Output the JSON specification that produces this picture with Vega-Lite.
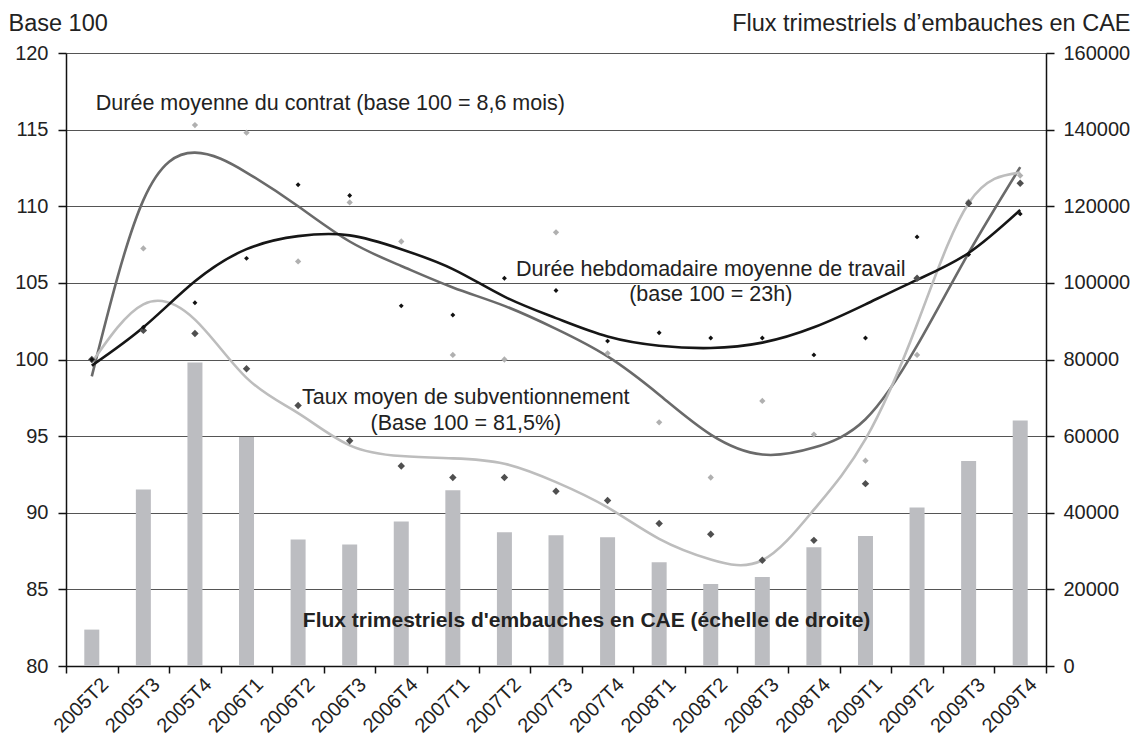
{
  "$schema": "https://vega.github.io/schema/vega-lite/v6.json",
  "width": 980,
  "height": 613,
  "autosize": {"type": "none"},
  "padding": {"left": 66, "top": 53, "right": 87, "bottom": 72},
  "background": "white",
  "config": {
    "view": {"stroke": null},
    "font": "Liberation Sans",
    "axis": {
      "labelFont": "Liberation Sans",
      "labelFontSize": 20,
      "labelColor": "#222",
      "titleFont": "Liberation Sans",
      "titleFontSize": 23.5,
      "titleFontWeight": "normal",
      "titleColor": "#222",
      "domainColor": "#111",
      "domainWidth": 1.5,
      "tickColor": "#111",
      "tickWidth": 1.5
    }
  },
  "data": {
    "values": [
      {"q": "2005T2", "flux": 9500, "hebdo": 100, "contrat": 100, "taux": 100, "hebdo_fit": 99.6, "contrat_fit": 98.9, "taux_fit": 99.8},
      {"q": "2005T3", "flux": 46100, "hebdo": 102.1, "contrat": 107.25, "taux": 101.9, "hebdo_fit": 102.1, "contrat_fit": 110.4, "taux_fit": 103.6},
      {"q": "2005T4", "flux": 79200, "hebdo": 103.7, "contrat": 115.3, "taux": 101.7, "hebdo_fit": 105.1, "contrat_fit": 113.5, "taux_fit": 102.6},
      {"q": "2006T1", "flux": 59800, "hebdo": 106.6, "contrat": 114.8, "taux": 99.4, "hebdo_fit": 107.2, "contrat_fit": 112.2, "taux_fit": 98.8},
      {"q": "2006T2", "flux": 33000, "hebdo": 111.4, "contrat": 106.4, "taux": 97.0, "hebdo_fit": 108.05, "contrat_fit": 110.0, "taux_fit": 96.5},
      {"q": "2006T3", "flux": 31700, "hebdo": 110.7, "contrat": 110.25, "taux": 94.7, "hebdo_fit": 108.1, "contrat_fit": 107.7, "taux_fit": 94.4},
      {"q": "2006T4", "flux": 37700, "hebdo": 103.5, "contrat": 107.7, "taux": 93.05, "hebdo_fit": 107.2, "contrat_fit": 106.1, "taux_fit": 93.7},
      {"q": "2007T1", "flux": 45900, "hebdo": 102.9, "contrat": 100.3, "taux": 92.3, "hebdo_fit": 105.9, "contrat_fit": 104.7, "taux_fit": 93.55},
      {"q": "2007T2", "flux": 34900, "hebdo": 105.3, "contrat": 100.0, "taux": 92.3, "hebdo_fit": 104.1, "contrat_fit": 103.5, "taux_fit": 93.2},
      {"q": "2007T3", "flux": 34100, "hebdo": 104.5, "contrat": 108.3, "taux": 91.4, "hebdo_fit": 102.7, "contrat_fit": 102.0, "taux_fit": 92.0},
      {"q": "2007T4", "flux": 33600, "hebdo": 101.2, "contrat": 100.4, "taux": 90.8, "hebdo_fit": 101.5, "contrat_fit": 100.2, "taux_fit": 90.35},
      {"q": "2008T1", "flux": 27100, "hebdo": 101.75, "contrat": 95.9, "taux": 89.3, "hebdo_fit": 100.9, "contrat_fit": 97.7, "taux_fit": 88.3},
      {"q": "2008T2", "flux": 21400, "hebdo": 101.4, "contrat": 92.3, "taux": 88.6, "hebdo_fit": 100.75, "contrat_fit": 95.1, "taux_fit": 86.95},
      {"q": "2008T3", "flux": 23200, "hebdo": 101.4, "contrat": 97.3, "taux": 86.9, "hebdo_fit": 101.1, "contrat_fit": 93.8, "taux_fit": 86.9},
      {"q": "2008T4", "flux": 31000, "hebdo": 100.3, "contrat": 95.1, "taux": 88.2, "hebdo_fit": 102.1, "contrat_fit": 94.25, "taux_fit": 90.2},
      {"q": "2009T1", "flux": 33900, "hebdo": 101.4, "contrat": 93.4, "taux": 91.9, "hebdo_fit": 103.6, "contrat_fit": 96.1, "taux_fit": 94.8},
      {"q": "2009T2", "flux": 41400, "hebdo": 108.0, "contrat": 100.3, "taux": 105.3, "hebdo_fit": 105.2, "contrat_fit": 100.9, "taux_fit": 102.3},
      {"q": "2009T3", "flux": 53500, "hebdo": 106.85, "contrat": 110.3, "taux": 110.2, "hebdo_fit": 106.95, "contrat_fit": 106.95, "taux_fit": 110.2},
      {"q": "2009T4", "flux": 64100, "hebdo": 109.5, "contrat": 112.0, "taux": 111.5, "hebdo_fit": 109.75, "contrat_fit": 112.55, "taux_fit": 112.2}
    ]
  },
  "encoding": {
    "x": {
      "field": "q",
      "type": "nominal",
      "sort": null,
      "scale": {"paddingInner": 0, "paddingOuter": 0},
      "axis": {
        "title": null,
        "grid": false,
        "tickBand": "extent",
        "tickSize": 7,
        "labelAngle": -45,
        "labelFontSize": 20,
        "labelPadding": 1,
        "labelOffset": 6
      }
    }
  },
  "layer": [
    {
      "mark": {"type": "bar", "size": 15, "color": "#bcbdc1"},
      "encoding": {
        "y": {
          "field": "flux",
          "type": "quantitative",
          "scale": {"domain": [0, 160000], "nice": false},
          "axis": {
            "orient": "right",
            "values": [0, 20000, 40000, 60000, 80000, 100000, 120000, 140000, 160000],
            "format": "d",
            "grid": false,
            "tickSize": 8,
            "labelPadding": 9,
            "title": "Flux trimestriels d’embauches en CAE",
            "titleAngle": 0,
            "titleAlign": "right",
            "titleBaseline": "alphabetic",
            "titleX": 84,
            "titleY": -23
          }
        }
      }
    },
    {
      "encoding": {
        "y": {
          "field": "val",
          "type": "quantitative",
          "scale": {"domain": [80, 120], "nice": false, "zero": false},
          "axis": {
            "orient": "left",
            "values": [80, 85, 90, 95, 100, 105, 110, 115, 120],
            "grid": true,
            "gridColor": "#555",
            "gridWidth": 1.2,
            "tickSize": 8,
            "labelPadding": 10,
            "title": "Base 100",
            "titleAngle": 0,
            "titleAlign": "left",
            "titleBaseline": "alphabetic",
            "titleX": -58,
            "titleY": -23
          }
        }
      },
      "layer": [
        {
          "transform": [{"fold": ["contrat_fit", "taux_fit", "hebdo_fit"], "as": ["serie", "val"]}],
          "mark": {"type": "line", "interpolate": "natural", "strokeWidth": 2.6},
          "encoding": {
            "color": {
              "field": "serie",
              "type": "nominal",
              "legend": null,
              "scale": {
                "domain": ["hebdo", "contrat", "taux", "hebdo_fit", "contrat_fit", "taux_fit"],
                "range": ["#111111", "#b0b0b0", "#4f4f4f", "#161616", "#6a6a6a", "#bdbdbd"]
              }
            }
          }
        },
        {
          "transform": [{"fold": ["contrat", "taux", "hebdo"], "as": ["serie", "val"]}],
          "mark": {"type": "point", "shape": "diamond", "filled": true, "opacity": 1},
          "encoding": {
            "color": {
              "field": "serie",
              "type": "nominal",
              "legend": null,
              "scale": {
                "domain": ["hebdo", "contrat", "taux", "hebdo_fit", "contrat_fit", "taux_fit"],
                "range": ["#111111", "#b0b0b0", "#4f4f4f", "#161616", "#6a6a6a", "#bdbdbd"]
              }
            },
            "size": {
              "field": "serie",
              "type": "nominal",
              "legend": null,
              "scale": {"domain": ["hebdo", "contrat", "taux"], "range": [24, 55, 55]}
            }
          }
        }
      ]
    },
    {
      "transform": [{"filter": "datum.q === '2005T2'"}],
      "mark": {"type": "text", "align": "left", "baseline": "alphabetic", "dx": 4, "fontSize": 21.5, "color": "#222"},
      "encoding": {
        "y": {"datum": 116.3, "type": "quantitative", "scale": {"domain": [80, 120], "nice": false, "zero": false}, "axis": null},
        "text": {"value": "Durée moyenne du contrat (base 100 = 8,6 mois)"}
      }
    },
    {
      "transform": [{"filter": "datum.q === '2008T2'"}],
      "mark": {"type": "text", "align": "center", "baseline": "alphabetic", "lineHeight": 25, "fontSize": 21.5, "color": "#222"},
      "encoding": {
        "y": {"datum": 105.45, "type": "quantitative", "scale": {"domain": [80, 120], "nice": false, "zero": false}, "axis": null},
        "text": {"value": ["Durée hebdomadaire moyenne de travail", "(base 100 = 23h)"]}
      }
    },
    {
      "transform": [{"filter": "datum.q === '2007T1'"}],
      "mark": {"type": "text", "align": "center", "baseline": "alphabetic", "lineHeight": 26, "dx": 13, "fontSize": 21.5, "color": "#222"},
      "encoding": {
        "y": {"datum": 97.08, "type": "quantitative", "scale": {"domain": [80, 120], "nice": false, "zero": false}, "axis": null},
        "text": {"value": ["Taux moyen de subventionnement", "(Base 100 = 81,5%)"]}
      }
    },
    {
      "transform": [{"filter": "datum.q === '2007T4'"}],
      "mark": {"type": "text", "align": "center", "baseline": "alphabetic", "dx": -21, "fontSize": 21, "fontWeight": "bold", "color": "#222"},
      "encoding": {
        "y": {"datum": 82.54, "type": "quantitative", "scale": {"domain": [80, 120], "nice": false, "zero": false}, "axis": null},
        "text": {"value": "Flux trimestriels d'embauches en CAE (échelle de droite)"}
      }
    }
  ],
  "resolve": {"scale": {"y": "independent"}}
}
